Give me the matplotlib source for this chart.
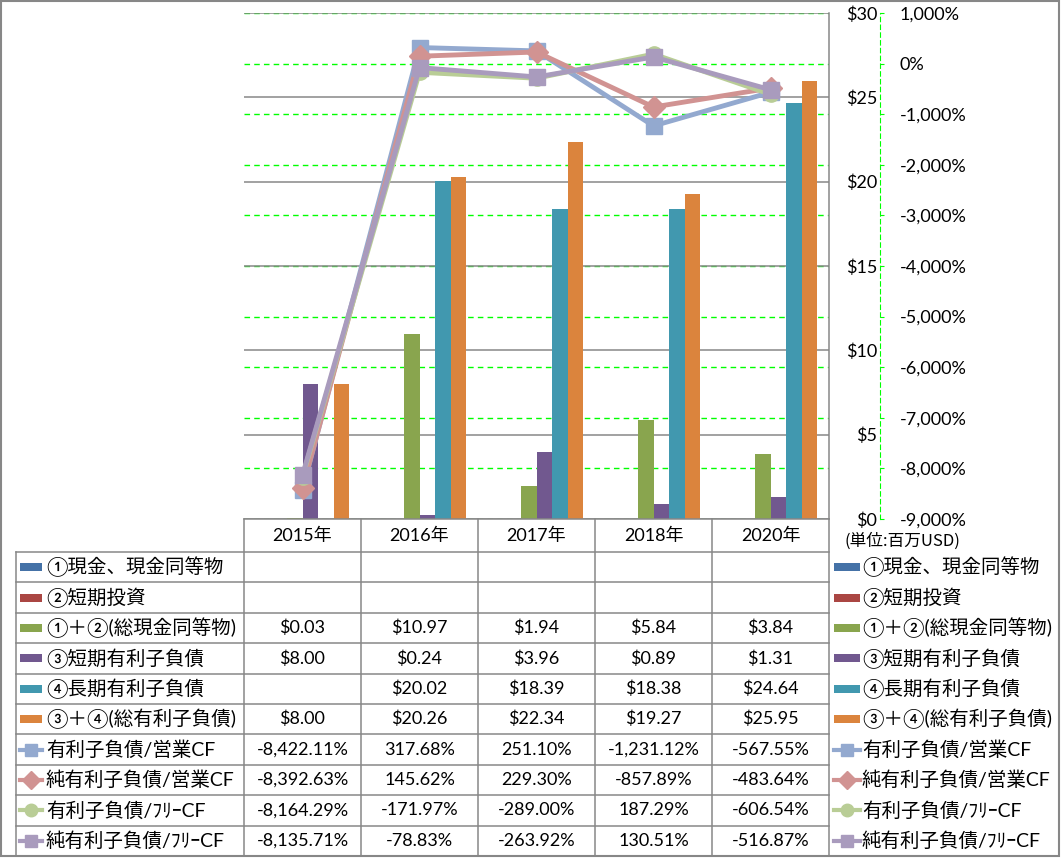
import numpy as np
import matplotlib
matplotlib.use('Agg')
import matplotlib.pyplot as plt
from matplotlib.lines import Line2D
from matplotlib.patches import Rectangle

plt.rcParams['font.family'] = ['Lato', 'Noto Sans CJK JP', 'DejaVu Sans']

# ---- data ----
years = ['2015年', '2016年', '2017年', '2018年', '2020年']

bar_names = ['①現金、現金同等物', '②短期投資', '①＋②(総現金同等物)',
             '③短期有利子負債', '④長期有利子負債', '③＋④(総有利子負債)']
cash = [None, None, None, None, None]
short_inv = [None, None, None, None, None]
total_cash = [0.03, 10.97, 1.94, 5.84, 3.84]
short_debt = [8.00, 0.24, 3.96, 0.89, 1.31]
long_debt = [None, 20.02, 18.39, 18.38, 24.64]
total_debt = [8.00, 20.26, 22.34, 19.27, 25.95]
bar_colors = ['#4572A7', '#AA4643', '#89A54E', '#71588F', '#4198AF', '#DB843D']

line_names = ['有利子負債/営業CF', '純有利子負債/営業CF', '有利子負債/ﾌﾘｰCF', '純有利子負債/ﾌﾘｰCF']
debt_ocf = [-8422.11, 317.68, 251.10, -1231.12, -567.55]
net_debt_ocf = [-8392.63, 145.62, 229.30, -857.89, -483.64]
debt_fcf = [-8164.29, -171.97, -289.00, 187.29, -606.54]
net_debt_fcf = [-8135.71, -78.83, -263.92, 130.51, -516.87]
line_colors = ['#93A9CF', '#D19392', '#B9CD96', '#A99BBD']
line_markers = ['s', 'D', 'o', 's']

usd_ticks = [0, 5, 10, 15, 20, 25, 30]
pct_ticks = [-9000, -8000, -7000, -6000, -5000, -4000, -3000, -2000, -1000, 0, 1000]

bar_series = [cash, short_inv, total_cash, short_debt, long_debt, total_debt]
line_series = [debt_ocf, net_debt_ocf, debt_fcf, net_debt_fcf]

# ---- layout helpers (pixel -> figure fraction) ----
W, H = 1061, 858
def fx(px):
    return px / W
def fy(py):
    return 1 - py / H

GRAY = '#878787'
GREEN = '#00FF00'
FS = 13

fig = plt.figure(figsize=(W / 100, H / 100), dpi=100)

left, right, top, bottom = 244, 829, 13, 519
rect = [fx(left), fy(bottom), (right - left) / W, (bottom - top) / H]

# percent axis (bottom layer, holds the green grid)
ax_pct = fig.add_axes(rect)
ax_bar = ax_pct.twinx()   # bars, dollar scale
ax_line = ax_pct.twinx()  # ratio lines drawn on top

ax_pct.set_xlim(-0.5, 4.5)
ax_pct.set_ylim(-9000, 1000)
ax_pct.yaxis.tick_right()
ax_pct.set_yticks(pct_ticks, [f'{v:,}%' for v in pct_ticks])
for lab, v in zip(ax_pct.get_yticklabels(), pct_ticks):
    if v < 0:
        lab.set_color('#FF0000')
ax_pct.grid(axis='y', color=GREEN, ls=(0, (4, 3)), lw=1)
ax_pct.tick_params(axis='y', direction='out', length=3, color=GREEN,
                   labelsize=FS, pad=11, left=False, labelleft=False,
                   right=True, labelright=True)
ax_pct.tick_params(axis='x', length=0, labelbottom=False)
for s in ['left', 'top', 'bottom']:
    ax_pct.spines[s].set_visible(False)
ax_pct.spines['right'].set_position(('outward', 36.7))
ax_pct.spines['right'].set_color(GREEN)
ax_pct.spines['right'].set_linestyle((0, (4, 3)))

# dollar axis with bars
ax_bar.set_ylim(0, 30)
ax_bar.set_yticks(usd_ticks, [f'${v}' for v in usd_ticks], ha='right')
ax_bar.set_axisbelow(True)
ax_bar.grid(axis='y', color=GRAY, lw=1.1)
ax_bar.tick_params(axis='y', length=0, labelsize=FS, pad=34.6)
for s in ['left', 'top']:
    ax_bar.spines[s].set_visible(False)
for s in ['right', 'bottom']:
    ax_bar.spines[s].set_color(GRAY)
    ax_bar.spines[s].set_linewidth(1.1)

w = 1 / 7.5
xs = np.arange(len(years))
for i, (vals, c) in enumerate(zip(bar_series, bar_colors)):
    v = np.array([np.nan if a is None else a for a in vals], dtype=float)
    ax_bar.bar(xs + (i - 2.5) * w, v, w, color=c, linewidth=0)

# line layer
ax_line.set_ylim(-9000, 1000)
ax_line.set_axis_off()
for vals, c, m in zip(line_series, line_colors, line_markers):
    ax_line.plot(xs, vals, color=c, lw=3.5, marker=m, ms=11, mfc=c, mec=c,
                 solid_joinstyle='round', clip_on=False)
ax_pct.set_xlim(-0.5, 4.5)

# ---- data table ----
col_edges = [left + (right - left) * k / 5 for k in range(6)]
row_top = 552
rh = (856 - row_top) / 10

def hline(x0, x1, y):
    fig.add_artist(Line2D([fx(x0), fx(x1)], [fy(y), fy(y)], transform=fig.transFigure,
                          color=GRAY, lw=1.1))

def vline(x, y0, y1):
    fig.add_artist(Line2D([fx(x), fx(x)], [fy(y0), fy(y1)], transform=fig.transFigure,
                          color=GRAY, lw=1.1))

for k in range(11):
    hline(16, right, row_top + k * rh)
for xe in col_edges[:-1]:
    vline(xe, bottom, 856)
vline(16, row_top, 856)
vline(right, bottom, 856)

# year headers
for j, yr in enumerate(years):
    fig.text(fx((col_edges[j] + col_edges[j + 1]) / 2), fy((bottom + row_top) / 2), yr,
             ha='center', va='center', fontsize=FS)

def draw_key(x0, x1, yc, kind, color, marker=None):
    if kind == 'bar':
        fig.add_artist(Rectangle((fx(x0), fy(yc + 4)), (x1 - x0) / W, 8 / H,
                                 transform=fig.transFigure, color=color, lw=0))
    else:
        fig.add_artist(Line2D([fx(x0), fx(x1)], [fy(yc), fy(yc)], transform=fig.transFigure,
                              color=color, lw=3))
        fig.add_artist(Line2D([fx((x0 + x1) / 2)], [fy(yc)], transform=fig.transFigure,
                              color=color, marker=marker, ms=9, mfc=color, mec=color, lw=0))

row_names = bar_names + line_names
for r in range(10):
    yc = row_top + (r + 0.5) * rh
    if r < 6:
        draw_key(20, 42, yc, 'bar', bar_colors[r])
        draw_key(834, 860, yc, 'bar', bar_colors[r])
        vals = bar_series[r]
        cells = ['' if v is None else f'${v:.2f}' for v in vals]
    else:
        draw_key(20, 42, yc, 'line', line_colors[r - 6], line_markers[r - 6])
        draw_key(834, 860, yc, 'line', line_colors[r - 6], line_markers[r - 6])
        vals = line_series[r - 6]
        cells = [f'{v:,.2f}%' for v in vals]
    fig.text(fx(46), fy(yc), row_names[r], ha='left', va='center', fontsize=14)
    fig.text(fx(862), fy(yc), row_names[r], ha='left', va='center', fontsize=14)
    for j, s in enumerate(cells):
        fig.text(fx((col_edges[j] + col_edges[j + 1]) / 2), fy(yc), s,
                 ha='center', va='center', fontsize=FS)

fig.text(fx(845), fy(541), '(単位:百万USD)', ha='left', va='center', fontsize=12,
         family=['Noto Sans CJK JP', 'DejaVu Sans'])

# outer border
fig.add_artist(Rectangle((fx(1), fy(856)), 1058 / W, 855 / H, transform=fig.transFigure,
                         fill=False, edgecolor=GRAY, lw=1.5))

fig.savefig('out.png', dpi=100)
